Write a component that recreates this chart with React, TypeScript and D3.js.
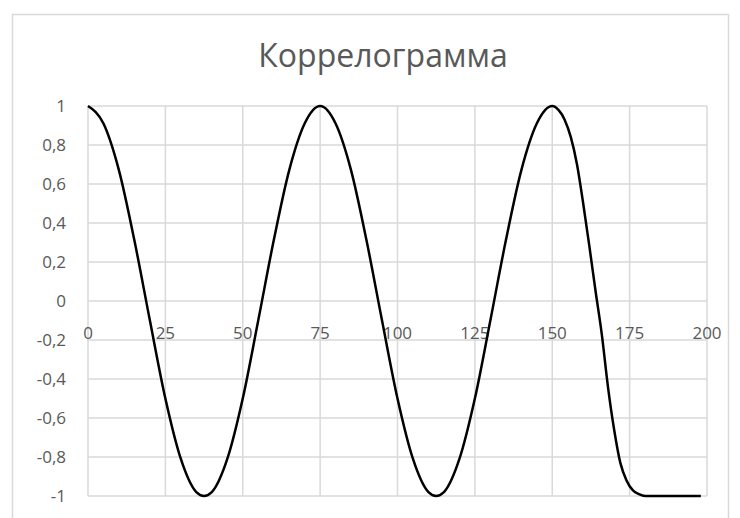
import { scaleLinear, line, curveMonotoneX, formatLocale } from "d3";

const W = 740
const H = 518

// лаги и значения автокорреляции
const lags = [
  0, 5, 10, 15, 20, 25, 30, 35, 37.5, 40, 45, 50, 55, 60, 65, 70, 75,
  80, 85, 90, 95, 100, 105, 110, 112.5, 115, 120, 125, 130, 135, 140, 145, 150,
  152, 154, 156, 158, 160, 162, 164, 166, 168, 170, 172, 174, 176, 178, 180,
  185, 190, 195, 198,
]
const acf = [
  1, 0.91, 0.67, 0.31, -0.1, -0.5, -0.81, -0.98, -1, -0.98, -0.81, -0.5, -0.1, 0.31, 0.67, 0.91, 1,
  0.91, 0.67, 0.31, -0.1, -0.5, -0.81, -0.98, -1, -0.98, -0.81, -0.5, -0.1, 0.31, 0.67, 0.91, 1,
  0.98, 0.93, 0.84, 0.7, 0.5, 0.28, 0.05, -0.17, -0.44, -0.66, -0.83, -0.92, -0.97, -0.99, -1,
  -1, -1, -1, -1,
]

const xTicks = [0, 25, 50, 75, 100, 125, 150, 175, 200]
const yTicks = [1, 0.8, 0.6, 0.4, 0.2, 0, -0.2, -0.4, -0.6, -0.8, -1]
const title = "Коррелограмма"

const ruFormat = formatLocale({
  decimal: ",",
  thousands: " ",
  grouping: [3],
  currency: ["", " ₽"],
  minus: "-",
}).format("~g")

const TEXT = "#595959"
const GRID = "#d9d9d9"

export default function App() {
  const x = scaleLinear().domain([0, 200]).range([88, 707])
  const y = scaleLinear().domain([-1, 1]).range([496, 106])

  const points = lags.map((l, i) => ({ lag: l, r: acf[i] }))
  const path = line<{ lag: number; r: number }>()
    .x(d => x(d.lag))
    .y(d => y(d.r))
    .curve(curveMonotoneX)

  return (
    <svg
      width={W}
      height={H}
      style={{ position: "absolute", left: 0, top: 0, background: "#fff" }}
      fontFamily="'Open Sans', sans-serif"
    >
      <rect x={12.5} y={14.5} width={716} height={540} fill="#fff" stroke="#d9d9d9" strokeWidth={1.5} />
      <text x={383} y={67} textAnchor="middle" fontSize={32} fill={TEXT}>
        {title}
      </text>
      <g>
        {yTicks.map(t => (
          <line key={"h" + t} x1={x(0)} x2={x(200)} y1={y(t)} y2={y(t)} stroke={GRID} strokeWidth={1.5} />
        ))}
        {xTicks.map(t => (
          <line key={"v" + t} x1={x(t)} x2={x(t)} y1={y(1)} y2={y(-1)} stroke={GRID} strokeWidth={1.5} />
        ))}
      </g>
      <g fontSize={17} fill={TEXT}>
        {yTicks.map(t => (
          <text key={"yl" + t} x={66} y={y(t)} dy="0.35em" textAnchor="end">
            {ruFormat(t)}
          </text>
        ))}
        {xTicks.map(t => (
          <text key={"xl" + t} x={x(t)} y={y(0) + 32} dy="0.35em" textAnchor="middle">
            {ruFormat(t)}
          </text>
        ))}
      </g>
      <path d={path(points) ?? ""} fill="none" stroke="#000" strokeWidth={2.5} strokeLinejoin="round" />
    </svg>
  )
}
